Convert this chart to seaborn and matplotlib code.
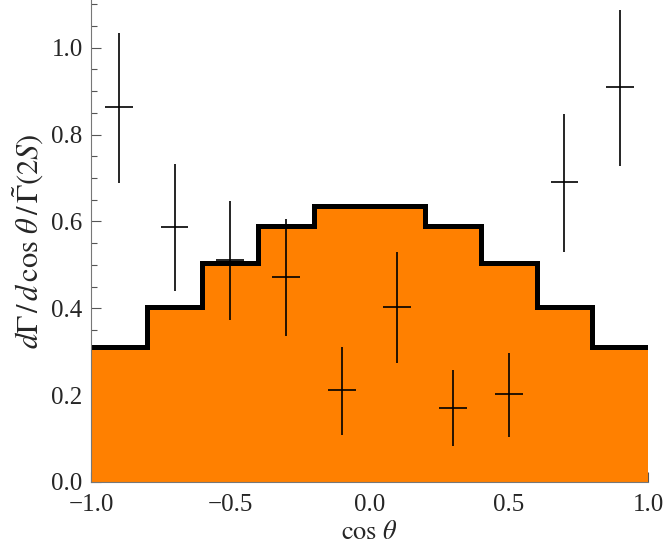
import matplotlib
matplotlib.use("Agg")
import matplotlib.pyplot as plt
from matplotlib.ticker import MultipleLocator
import numpy as np
import seaborn as sns

# histogram (theory) in 10 bins of cos(theta)
bin_edges = [-1.0, -0.8, -0.6, -0.4, -0.2, 0.0, 0.2, 0.4, 0.6, 0.8, 1.0]
hist_vals = [0.311, 0.404, 0.505, 0.590, 0.636, 0.636, 0.590, 0.505, 0.404, 0.311]

# data points with errors
pt_x = [-0.9, -0.7, -0.5, -0.3, -0.1, 0.1, 0.3, 0.5, 0.7, 0.9]
pt_y = [0.864, 0.588, 0.512, 0.473, 0.211, 0.402, 0.170, 0.202, 0.691, 0.909]
pt_lo = [0.689, 0.440, 0.373, 0.336, 0.108, 0.273, 0.083, 0.103, 0.530, 0.727]
pt_hi = [1.035, 0.733, 0.647, 0.606, 0.310, 0.530, 0.257, 0.298, 0.848, 1.087]

sns.set_style("ticks")
plt.rcParams["font.family"] = ["Liberation Serif", "DejaVu Serif"]
plt.rcParams["mathtext.fontset"] = "stix"

fig = plt.figure(figsize=(6.64, 5.45), dpi=100)
ax = fig.add_axes([0.137, 0.1156, 0.839, 0.8844])

centers = [(bin_edges[i] + bin_edges[i + 1]) / 2 for i in range(len(hist_vals))]
sns.histplot(x=centers, weights=hist_vals, bins=bin_edges, element="step",
             fill=True, color="#ff8000", alpha=1, linewidth=0, ax=ax)
ax.stairs(hist_vals, bin_edges, color="black", linewidth=3.6, baseline=None)

yerr = [np.array(pt_y) - np.array(pt_lo), np.array(pt_hi) - np.array(pt_y)]
ax.errorbar(pt_x, pt_y, yerr=yerr, xerr=0.05, fmt="none", ecolor="black",
            elinewidth=1.2, capsize=0)

ax.set_xlim(-1.0, 1.0)
ax.set_ylim(0, 1.11)
ax.xaxis.set_major_locator(MultipleLocator(0.5))
ax.xaxis.set_minor_locator(MultipleLocator(0.1))
ax.yaxis.set_major_locator(MultipleLocator(0.2))
ax.yaxis.set_minor_locator(MultipleLocator(0.05))
ax.tick_params(which="both", direction="in", color="#555555", width=0.8)
ax.tick_params(which="major", length=7, labelsize=18)
ax.tick_params(which="minor", length=4)
ax.tick_params(axis="y", pad=6)
ax.tick_params(axis="x", pad=9)
ax.xaxis.set_major_formatter(matplotlib.ticker.FuncFormatter(
    lambda v, p: ("\u2212" if v < 0 else "") + f"{abs(v):.1f}"))
ax.yaxis.set_major_formatter(matplotlib.ticker.FuncFormatter(lambda v, p: f"{v:.1f}"))
sns.despine(ax=ax)
for s in ["left", "bottom"]:
    ax.spines[s].set_color("#777777")
    ax.spines[s].set_linewidth(0.8)

ax.set_xlabel(r"$\cos\,\theta$", fontsize=19, labelpad=3)
ax.set_ylabel(r"$d\Gamma\,/\,d\,\cos\,\theta\,/\,\tilde{\Gamma}(2S)$", fontsize=22, labelpad=4)
ax.set_zorder(1)

fig.savefig("out.png", dpi=100)
